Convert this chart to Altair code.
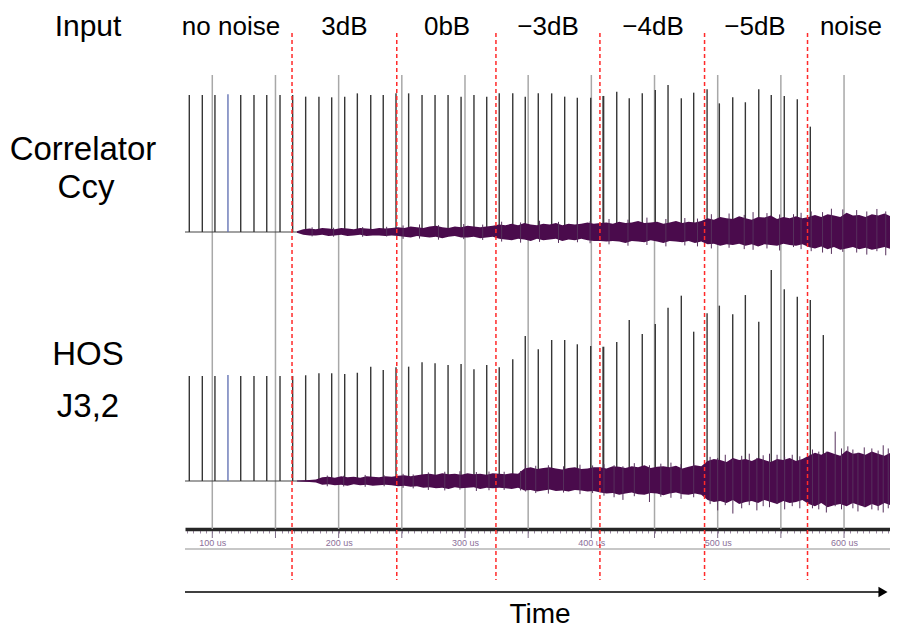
import altair as alt
import pandas as pd

# ---------------- data ----------------
# pulse times in microseconds
PULSE_T = [81.8, 92.1, 102.1, 112.4, 122.5, 133.0, 143.1, 153.6, 163.6, 173.9,
           184.4, 194.5, 204.8, 214.8, 225.4, 235.3, 245.4, 255.4, 266.0, 276.3,
           286.6, 296.9, 307.1, 317.2, 327.1, 337.8, 347.7, 358.0, 368.6, 378.9,
           388.9, 399.5, 409.5, 420.1, 430.0, 440.3, 450.6, 460.7, 471.2, 481.0,
           491.6, 501.3, 511.9, 521.9, 532.5, 542.4, 552.7, 563.0, 573.3, 583.6]
# correlator peak amplitude (no-noise peak = 1)
CORR_AMP = [1.000, 1.000, 1.000, 1.005, 1.000, 1.000, 1.000, 1.000, 1.000, 0.988,
            0.988, 0.983, 0.988, 1.012, 1.000, 1.000, 1.012, 1.012, 1.000, 1.000,
            1.000, 0.988, 1.000, 0.988, 1.012, 1.012, 0.988, 1.012, 1.012, 0.988,
            0.980, 0.980, 0.993, 1.024, 0.976, 1.012, 1.036, 1.073, 0.976, 1.017,
            1.042, 0.939, 0.983, 0.947, 1.042, 1.000, 0.993, 0.969, 0.769]
# HOS J3,2 peak amplitude (no-noise peak = 1)
HOS_AMP = [1.000, 1.000, 1.000, 1.010, 1.000, 1.000, 1.000, 1.000, 1.000, 1.007,
           1.026, 1.026, 1.019, 1.031, 1.089, 1.057, 1.083, 1.089, 1.130, 1.121,
           1.105, 1.114, 1.064, 1.105, 1.083, 1.159, 1.381, 1.254, 1.343, 1.343,
           1.302, 1.286, 1.279, 1.324, 1.533, 1.400, 1.495, 1.650, 1.765, 1.422,
           1.597, 1.670, 1.588, 1.771, 1.517, 2.010, 1.826, 1.755, 1.724, 1.390]
PULSE_COLOR = ["#363636"] * 50
PULSE_COLOR[3] = "#6675b5"
PULSE_WIDTH = [1.4] * 50
PULSE_WIDTH[32] = 2.0

# segment boundaries (us) and labels
BOUND_T = [163.1, 246.0, 324.5, 406.8, 489.6, 571.1]
SEG_LABEL = ["no noise", "3dB", "0bB", "\u22123dB", "\u22124dB", "\u22125dB", "noise"]
SEG_LABEL_T = [114.8, 204.6, 285.8, 365.7, 448.8, 529.5, 605.5]
GRID_T = [100, 150, 200, 250, 300, 350, 400, 450, 500, 550, 600]

# noise envelope, percent of the no-noise peak
NOISE_T = [167, 172, 177, 182, 187, 192, 197, 202, 207, 212, 217, 222, 227, 232, 237, 242,
           247, 252, 257, 262, 267, 272, 277, 282, 287, 292, 297, 302, 307, 312, 317, 322,
           327, 332, 337, 342, 347, 352, 357, 362, 367, 372, 377, 382, 387, 392, 397, 402,
           407, 412, 417, 422, 427, 432, 437, 442, 447, 452, 457, 462, 467, 472, 477, 482, 487,
           492, 497, 502, 507, 512, 517, 522, 527, 532, 537, 542, 547, 552, 557, 562, 567,
           572, 577, 582, 587, 592, 597, 602, 607, 612, 617, 622, 627, 632, 637, 642]
CORR_HI = [0.5, 2, 2.5, 2, 3, 2.5, 2, 3, 2.5, 2, 3, 2.5, 2.2, 3, 2.5, 3,
           3.5, 3, 4, 3.5, 3, 4, 4.5, 3.5, 3, 4, 3.5, 4.5, 4, 3.5, 4, 4.5,
           5.5, 5, 6, 5, 6.5, 5.5, 5, 6, 5.5, 6.5, 5, 6, 5.5, 6, 7, 6,
           6.5, 7, 6, 7.5, 6.5, 7, 8, 6.5, 7, 7.5, 6, 7, 8, 6.5, 7.5, 7, 8,
           10, 9, 11, 10, 9.5, 11.5, 10, 9, 11, 10.5, 12, 9.5, 11, 10, 11.5, 10,
           11, 12.5, 11, 13, 12, 11, 14, 12, 12.5, 11, 13, 12, 13.5, 11.5, 12.5]
CORR_LO = [0.5, 2, 2.5, 2.5, 2, 3, 2.5, 2, 3, 2.5, 2, 3, 2.5, 2.5, 3, 2.5,
           3, 3.5, 4, 3, 3.5, 4, 3.5, 4.5, 3.5, 3, 4, 4, 3.5, 4.5, 4, 3.5,
           5, 5.5, 6, 5, 5.5, 6.5, 5, 6, 5.5, 5, 6.5, 5.5, 6, 5, 6, 6.5,
           6.5, 7, 6.5, 7, 8, 6.5, 7, 7.5, 6, 7, 8, 6.5, 7, 7.5, 6.5, 8, 7,
           9, 8.5, 10, 9, 9.5, 8.5, 10, 9, 10.5, 9, 9.5, 10, 8.5, 9.5, 10, 9,
           11, 12, 10.5, 12.5, 11, 13, 12, 11, 12.5, 11.5, 13, 12, 11, 12.5, 12]
HOS_HI = [0.5, 0.8, 1, 1.5, 3.5, 4, 3, 4.5, 3.5, 4, 3, 4.5, 4, 3.5, 4.5, 4,
          5, 5.5, 4.5, 5.5, 6.5, 7, 6, 7.5, 6.5, 7, 6, 7.5, 6.5, 7, 6, 7.5,
          7, 6.5, 7.5, 7, 12, 13, 11.5, 12.5, 13, 12, 11, 12.5, 13, 11.5, 12, 13,
          13, 12, 14, 13.5, 12.5, 14, 13, 15, 12.5, 13.5, 14, 13, 14.5, 12, 13.5, 15, 14,
          19, 21, 20, 18, 22, 20, 21, 19, 22, 20, 18, 21, 20, 22, 19, 21,
          24, 27, 25, 28, 26, 24, 29, 26, 27, 25, 28, 26, 24, 27, 26]
HOS_LO = [0.5, 0.8, 1, 1.5, 3.5, 3, 4, 3.5, 4.5, 3, 4, 3.5, 4.5, 4, 3.5, 4,
          5, 4.5, 5.5, 5, 6.5, 6, 7, 6.5, 7.5, 6, 7, 6.5, 6, 7.5, 6.5, 7,
          6.5, 7, 7.5, 6.5, 9, 8.5, 10, 9, 8, 9.5, 9, 10, 8.5, 9, 10, 9.5,
          11, 12, 11.5, 13, 12, 11, 12.5, 13, 11.5, 12, 13.5, 12, 11, 12.5, 13, 12, 13,
          18, 20, 19, 21, 18, 22, 20, 19, 21, 18, 20, 22, 19, 21, 20, 18,
          22, 24, 21, 25, 23, 22, 24, 21, 23, 25, 22, 24, 21, 23, 22]

# isolated noise spikes beyond the band (percent)
CORR_SPIKE_T = [179, 196, 219, 238, 251, 264, 279, 299, 314,
                329, 344, 359, 374, 389, 399, 414, 429, 444, 459, 474, 484,
                495, 509, 521, 528, 539, 549, 560, 566,
                574, 583, 590, 599, 610, 618, 626, 633]
CORR_SPIKE_LO = [-3.2, -3.4, -3.5, -3.3, -5, -4.8, -5.6, -5.2, -5.8,
                 -7, -7.8, -7.2, -8, -7.5, -8.2, -9, -10, -9.5, -10.5, -9.8, -10.5,
                 -12, -11.5, -12.5, -13, -12, -13.5, -11, -12.5,
                 -14, -15, -16, -14.5, -15, -16.5, -14, -17]
CORR_SPIKE_HI = [3.4, 3.1, 3.6, 3.8, 4.8, 5.5, 5, 5.8, 5.4,
                 7.5, 7, 8.2, 7.4, 8.5, 7.8, 9.5, 9, 10.5, 9.5, 10.2, 9.8,
                 13, 13.5, 12.5, 14.5, 13.8, 12.8, 13, 14,
                 15, 14.5, 17, 16.5, 16, 15, 16.8, 15]
HOS_SPIKE_T = [191, 204, 221, 236, 251, 259, 271, 284, 296, 309, 319,
               331, 344, 348, 356, 366, 378, 391, 401,
               410, 418, 425, 434, 446, 455, 463, 471, 481,
               494, 500, 506, 512, 519, 525, 531, 536, 541, 547, 553, 559, 565,
               575, 580, 586, 593, 598, 603, 607, 611, 616, 622, 627, 631, 635]
HOS_SPIKE_LO = [-5, -5.2, -5.5, -5, -6.5, -7, -8.5, -9, -8.2, -9.5, -8.8,
                -8.5, -9, -10, -11.5, -12, -11, -12.5, -11.5,
                -14, -15.5, -18, -14.5, -20, -15, -16, -17, -15.5,
                -22, -28, -23, -31, -26, -23, -28, -24, -25, -22, -27, -24, -26,
                -26, -27, -30, -24, -27, -22, -26, -29, -25, -27, -28, -30, -26]
HOS_SPIKE_HI = [5.2, 5, 5.8, 5.5, 6.8, 6.2, 8.2, 8.8, 9.3, 8.5, 9,
                8.8, 9.5, 15.5, 14.5, 15, 14, 15.5, 14.8,
                16, 15, 14, 17, 15, 16.5, 17.5, 16, 17,
                23, 22, 25, 21, 24, 26, 22, 24.5, 26, 25, 23, 25, 23.5,
                30, 28, 28, 47, 31, 33, 30, 27, 32, 31, 29, 34, 31]

# ---------------- layout ----------------
W, H = 705, 521
T0 = 78.4
T1 = T0 + W / 1.2635
FONT = "Liberation Sans"
NOISE_COLOR = "#4a0b4c"
SPIKE_COLOR = "#56305c"


def ydom(base_px, unit_px):
    return [-(H - base_px) / unit_px, base_px / unit_px]


CORR_SCALE = alt.Scale(domain=ydom(224, 137), nice=False, zero=False)
HOS_SCALE = alt.Scale(domain=ydom(473, 105), nice=False, zero=False)

X_AXIS = alt.Axis(values=list(range(80, 640, 5)),
                  labelExpr="datum.value % 100 === 0 ? datum.value + ' us' : ''",
                  domainWidth=3.5, domainColor="#262626",
                  tickColor="#9c8aa3", tickSize=4, tickWidth=1,
                  labelFontSize=9, labelColor="#8b6f99", labelFont=FONT,
                  labelPadding=5, grid=False, title=None, labelFlush=False,
                  labelOverlap=False)


def X(field):
    return alt.X(field, type="quantitative",
                 scale=alt.Scale(domain=[T0, T1], nice=False, zero=False),
                 axis=X_AXIS)


one = pd.DataFrame({"a": [0]})
grid_df = pd.DataFrame({"t": GRID_T})
bound_df = pd.DataFrame({"t": BOUND_T})
seg_df = pd.DataFrame({"t": SEG_LABEL_T, "label": SEG_LABEL})

corr_pulses = pd.DataFrame({"t": PULSE_T[:len(CORR_AMP)], "amp": CORR_AMP, "zero": 0.0,
                            "col": PULSE_COLOR[:len(CORR_AMP)], "w": PULSE_WIDTH[:len(CORR_AMP)]})
hos_pulses = pd.DataFrame({"t": PULSE_T, "amp": HOS_AMP, "zero": 0.0,
                           "col": PULSE_COLOR, "w": PULSE_WIDTH})
corr_noise = pd.DataFrame({"t": NOISE_T, "hi": [v / 100 for v in CORR_HI],
                           "lo": [-v / 100 for v in CORR_LO]})
hos_noise = pd.DataFrame({"t": NOISE_T, "hi": [v / 100 for v in HOS_HI],
                          "lo": [-v / 100 for v in HOS_LO]})
corr_spk = pd.DataFrame({"t": CORR_SPIKE_T, "lo": [v / 100 for v in CORR_SPIKE_LO],
                         "hi": [v / 100 for v in CORR_SPIKE_HI]})
hos_spk = pd.DataFrame({"t": HOS_SPIKE_T, "lo": [v / 100 for v in HOS_SPIKE_LO],
                        "hi": [v / 100 for v in HOS_SPIKE_HI]})
base_df = pd.DataFrame({"v": [0.0]})

# ---------------- layers ----------------
grid = alt.Chart(grid_df).mark_rule(color="#a8a8a8", strokeWidth=1.5).encode(
    x=X("t"), y=alt.value(67), y2=alt.value(H))
major_ticks = alt.Chart(grid_df).mark_rule(color="#7d6c86", strokeWidth=1).encode(
    x=X("t"), y=alt.value(H + 2), y2=alt.value(H + 9))
bottom_line = alt.Chart(one).mark_rule(color="#b4b4b4", strokeWidth=1.5).encode(
    x=alt.value(0), x2=alt.value(W), y=alt.value(H + 20))


def panel(scale, pulses, noise, spk):
    baseline = alt.Chart(base_df).mark_rule(color="#444444", strokeWidth=1.2).encode(
        x=alt.value(0), x2=alt.value(W),
        y=alt.Y("v:Q", scale=scale, axis=None))
    p = alt.Chart(pulses).mark_rule().encode(
        x=X("t"),
        y=alt.Y("amp:Q", scale=scale, axis=None), y2="zero:Q",
        color=alt.Color("col:N", scale=None),
        strokeWidth=alt.StrokeWidth("w:Q", scale=None))
    n = alt.Chart(noise).mark_area(color=NOISE_COLOR, interpolate="linear",
                                   clip=True).encode(
        x=X("t"), y=alt.Y("hi:Q", scale=scale, axis=None), y2="lo:Q")
    s = alt.Chart(spk).mark_rule(color=SPIKE_COLOR, strokeWidth=1, clip=True).encode(
        x=X("t"), y=alt.Y("hi:Q", scale=scale, axis=None), y2="lo:Q")
    return alt.layer(baseline, p, n, s)


corr = panel(CORR_SCALE, corr_pulses, corr_noise, corr_spk)
hos = panel(HOS_SCALE, hos_pulses, hos_noise, hos_spk)

red = alt.Chart(bound_df).mark_rule(color="#ff2a2a", strokeWidth=1.5,
                                    strokeDash=[4, 3]).encode(
    x=X("t"), y=alt.value(25), y2=alt.value(572))

seg_text = alt.Chart(seg_df).mark_text(font=FONT, fontSize=26, color="black").encode(
    x=X("t"), y=alt.value(19), text="label:N")


def side(label, x, y, size=33, baseline="middle"):
    return alt.Chart(one).mark_text(text=label, font=FONT, fontSize=size,
                                    baseline=baseline, color="black").encode(
        x=alt.value(x), y=alt.value(y))


arrow = alt.Chart(one).mark_rule(color="black", strokeWidth=1.5).encode(
    x=alt.value(0), x2=alt.value(694), y=alt.value(584))
head = alt.Chart(one).mark_point(shape="triangle-right", filled=True, size=110,
                                 color="black", opacity=1).encode(
    x=alt.value(698), y=alt.value(584))

chart = alt.layer(
    grid, major_ticks, bottom_line, corr, hos, red, seg_text,
    side("Input", -97, 19, size=30),
    side("Correlator", -102, 142), side("Ccy", -99, 180),
    side("HOS", -97, 347), side("J3,2", -97, 399),
    arrow, head, side("Time", 355, 621, size=28, baseline="bottom"),
).resolve_scale(y="independent").properties(
    width=W, height=H,
    padding={"left": 177, "top": 0, "right": 0, "bottom": 100},
    autosize=alt.AutoSizeParams(type="none"),
).configure(background="white", view=alt.ViewConfig(stroke=None))

chart.save("out.html", embed_options={"renderer": "svg", "actions": False})
